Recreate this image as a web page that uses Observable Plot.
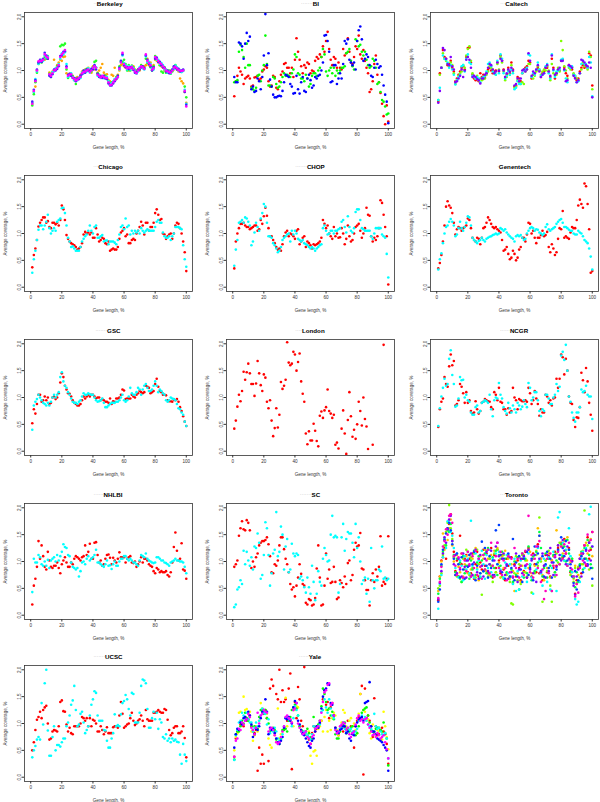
<!DOCTYPE html>
<html><head><meta charset="utf-8">
<script src="https://cdn.jsdelivr.net/npm/d3@7"></script>
<script src="https://cdn.jsdelivr.net/npm/@observablehq/plot@0.6"></script>
<style>
html,body{margin:0;padding:0;background:#fff}
#fig{position:relative;width:600px;height:802px;overflow:hidden;font-family:"Liberation Sans",Arial,Helvetica,sans-serif}
.panel{position:absolute;width:200px;height:160px}
.panel svg{position:absolute;left:0;top:0;overflow:visible}
.ttl{position:absolute;top:-1px;left:24px;width:168px;text-align:center;font-weight:bold;font-size:6.2px;line-height:8px;color:#000;white-space:nowrap}
.ttl .dots{color:#b0b0b0;font-weight:normal;font-size:5px;vertical-align:1px}
</style></head>
<body><div id="fig"></div>
<script>
// x positions: gene length, % (1..100)
const geneLength = d3.range(1, 101);
const xTicks = [0, 20, 40, 60, 80, 100];
const yTicks = [0, 0.5, 1, 1.5, 2];

// ---- Berkeley
const berkeleyOrange = [0.38,0.60,0.70,1.00,1.12,1.18,1.19,1.20,1.20,1.24,1.22,0.96,0.94,0.98,1.20,1.02,1.10,1.15,1.20,1.18,1.25,1.26,0.95,0.88,0.94,0.90,0.90,0.82,0.86,0.88,0.86,0.92,0.98,1.00,1.02,1.00,1.05,1.00,0.96,1.08,1.02,1.05,0.96,1.00,1.05,1.12,0.96,0.92,0.93,0.82,0.80,0.92,0.90,1.05,0.84,0.92,1.00,1.10,1.12,1.08,1.05,1.02,1.00,1.05,1.04,1.08,1.02,1.00,1.02,1.00,1.05,1.06,1.08,1.10,1.22,1.10,1.15,1.05,1.10,1.20,1.18,1.15,1.10,1.08,1.05,1.00,1.02,1.00,0.96,1.00,1.00,1.02,1.06,1.02,0.98,0.85,0.80,0.76,0.60,0.40];
const berkeleyGreen = [0.35,0.56,0.78,0.96,1.14,1.17,1.15,1.20,1.25,1.22,1.27,0.94,0.88,0.96,1.01,1.03,1.08,1.10,1.45,1.48,1.47,1.50,1.02,0.86,0.91,0.92,0.89,0.85,0.75,0.84,0.85,0.89,0.94,0.98,0.97,1.03,1.01,1.00,0.98,1.06,1.16,1.18,0.95,0.92,0.90,0.88,0.86,0.90,0.85,0.80,0.76,0.78,0.79,0.83,0.88,0.90,1.08,1.17,1.16,1.20,1.12,1.00,1.10,1.00,1.09,1.06,1.01,0.98,0.99,1.03,1.10,1.07,1.04,1.22,1.14,1.12,1.06,1.00,1.08,1.27,1.20,1.17,1.10,0.98,0.96,1.06,0.96,0.98,1.00,0.94,0.98,1.06,1.10,1.04,1.02,0.99,0.98,1.00,0.70,0.50];
const berkeleyCyan = [0.40,0.60,0.84,0.98,1.12,1.16,1.20,1.18,1.28,1.24,1.26,0.92,0.92,0.97,0.98,1.04,1.06,1.12,1.22,1.32,1.30,1.34,1.12,0.88,0.90,0.95,0.88,0.82,0.84,0.82,0.87,0.86,0.96,0.95,1.00,0.98,1.04,0.96,1.02,1.04,1.06,1.06,0.90,0.92,0.86,0.88,0.86,0.88,0.88,0.80,0.74,0.76,0.80,0.84,0.86,0.87,1.02,1.16,1.28,1.14,1.10,1.02,1.08,1.02,1.08,1.04,1.00,0.94,0.98,1.06,1.06,1.04,1.02,1.26,1.16,1.16,1.12,1.04,1.02,1.24,1.20,1.20,1.12,1.14,1.10,1.02,1.02,0.96,0.98,0.95,1.02,1.03,1.09,1.06,1.00,1.01,0.97,0.99,0.64,0.38];
const berkeleyBlue = [0.42,0.64,0.82,1.02,1.15,1.20,1.16,1.22,1.33,1.28,1.22,0.90,0.88,0.93,1.02,1.00,1.03,1.08,1.27,1.28,1.35,1.36,1.08,0.92,0.94,0.90,0.86,0.86,0.80,0.85,0.84,0.90,0.93,1.00,0.96,1.02,1.00,0.99,1.03,1.02,1.10,1.02,0.94,0.88,0.89,0.86,0.90,0.85,0.84,0.76,0.72,0.72,0.76,0.80,0.84,0.90,1.05,1.18,1.30,1.10,1.06,1.06,1.03,1.06,1.05,1.01,0.96,0.97,1.02,1.02,1.06,1.08,1.05,1.28,1.20,1.12,1.08,1.00,1.06,1.22,1.24,1.16,1.16,1.10,1.06,1.05,0.98,1.00,0.95,0.98,1.02,1.08,1.05,1.02,1.03,0.98,1.00,1.02,0.60,0.36];
const berkeleyMagenta = [0.38,0.62,0.80,1.00,1.17,1.18,1.18,1.20,1.30,1.26,1.24,0.93,0.90,0.95,1.00,1.02,1.05,1.10,1.25,1.30,1.33,1.38,1.05,0.90,0.92,0.93,0.87,0.84,0.82,0.83,0.86,0.88,0.95,0.97,0.98,1.00,1.02,0.97,1.00,1.05,1.08,1.05,0.92,0.90,0.87,0.90,0.88,0.87,0.86,0.78,0.73,0.74,0.78,0.82,0.85,0.88,1.03,1.15,1.33,1.12,1.08,1.04,1.06,1.04,1.07,1.03,0.98,0.95,1.00,1.04,1.08,1.06,1.03,1.30,1.18,1.14,1.10,1.02,1.04,1.25,1.22,1.18,1.14,1.12,1.08,1.04,1.00,0.98,0.97,0.96,1.00,1.05,1.07,1.04,1.01,1.00,0.99,1.00,0.62,0.33];

// ---- BI
const biRed = [0.52,0.80,0.90,1.05,0.98,0.92,0.75,0.85,0.88,0.90,0.85,0.70,0.72,0.87,0.88,0.90,0.82,0.85,0.98,1.02,1.08,1.05,0.80,0.70,0.72,0.90,0.88,0.68,0.65,0.80,0.92,0.98,1.12,1.14,1.05,1.05,0.95,1.05,0.88,1.20,1.60,1.35,1.20,1.08,0.95,1.10,1.05,1.15,1.12,0.95,1.00,0.98,1.18,1.25,1.22,1.30,1.25,1.45,1.35,1.55,1.72,1.40,1.20,1.10,1.25,1.22,1.05,1.15,1.05,1.02,1.40,1.28,1.32,1.60,1.35,1.15,1.12,1.25,1.45,1.40,1.65,1.30,1.22,1.38,1.18,1.05,0.95,0.60,0.65,0.80,1.12,1.28,0.92,0.78,0.58,0.38,0.15,0.00,0.35,0.05];
const biGreen = [0.78,0.80,0.82,1.35,1.48,1.38,1.25,1.05,1.50,1.10,1.10,0.68,0.65,0.62,0.68,0.90,0.92,0.80,1.00,1.10,1.65,1.12,0.72,0.72,0.70,0.88,0.85,0.75,0.68,0.70,0.78,0.88,0.95,0.90,0.92,0.90,0.88,0.95,1.02,1.30,1.25,0.95,0.92,0.85,0.85,0.80,0.92,0.85,0.70,0.75,0.90,0.95,0.95,0.90,1.00,1.05,1.25,1.40,1.30,0.98,0.90,1.00,1.05,0.95,1.05,0.90,1.00,0.95,1.00,1.05,1.05,1.08,1.32,1.35,1.40,1.18,1.08,1.02,1.58,1.55,1.45,1.48,1.35,1.28,1.35,1.20,1.10,1.05,1.08,1.22,1.18,1.05,0.75,0.78,0.60,0.45,0.42,0.33,0.18,0.20];
const biBlue = [0.88,0.78,0.78,1.52,1.50,1.45,1.22,1.50,1.70,1.55,1.63,0.65,0.70,0.60,0.62,0.85,0.80,0.65,0.88,1.28,2.05,1.10,1.32,0.83,0.70,0.55,0.50,0.50,0.52,0.53,0.52,0.62,0.78,0.92,0.90,0.88,0.75,0.70,0.57,0.58,0.90,0.65,0.57,0.78,0.88,0.62,0.60,0.85,0.92,0.82,0.68,0.72,0.88,0.85,0.90,0.92,1.00,1.15,1.65,1.66,1.55,1.35,0.78,0.80,1.10,1.10,0.75,0.85,0.95,0.85,1.12,1.55,1.50,1.58,1.20,1.15,1.10,1.15,1.02,1.55,1.75,1.82,1.58,1.18,1.22,1.30,1.25,1.10,0.90,0.88,1.05,1.20,1.12,1.05,1.08,0.92,0.72,0.55,0.42,0.02];

// ---- Caltech
const caltechRed = [0.42,0.95,1.05,1.38,1.25,1.22,1.10,1.12,1.18,1.05,0.98,0.80,0.85,0.92,0.98,1.05,1.08,1.02,1.25,1.42,1.43,1.15,0.92,0.85,0.82,0.85,0.80,0.95,0.88,0.92,0.88,0.95,1.02,1.05,1.00,0.95,0.98,1.00,1.15,0.98,1.28,1.18,1.02,0.88,0.92,1.05,0.95,1.15,1.02,0.70,0.72,0.88,0.85,0.80,0.95,1.02,1.05,1.08,1.18,1.15,0.85,0.92,0.95,1.00,1.05,1.00,0.88,0.95,0.98,1.05,1.05,0.98,0.88,1.22,1.05,0.85,0.95,1.02,1.00,1.18,1.20,1.05,0.95,0.90,1.10,1.05,1.02,0.92,0.88,0.82,0.85,0.98,1.05,1.10,1.05,1.08,1.05,1.32,1.28,0.72];
const caltechGreen = [0.45,0.92,1.05,1.32,1.22,1.18,1.12,1.08,1.15,1.10,0.95,0.75,0.82,0.90,0.95,0.98,1.10,1.05,1.28,1.40,1.45,1.18,0.95,0.88,0.85,0.90,0.82,0.85,0.82,0.84,0.85,0.92,0.98,1.08,1.05,1.02,0.95,0.92,1.12,1.02,1.25,1.15,0.98,0.82,0.88,1.00,0.92,1.10,0.98,0.68,0.70,0.82,0.78,0.75,0.78,0.75,0.98,1.02,1.12,1.12,0.88,0.85,0.90,0.98,1.08,1.02,0.92,0.98,1.02,1.00,1.08,1.00,0.82,1.12,0.95,0.90,0.92,1.05,0.98,1.55,1.38,1.08,1.00,0.85,1.05,1.02,1.05,0.95,0.90,0.85,0.82,0.95,1.02,1.15,1.08,1.10,1.02,1.35,1.25,0.65];
const caltechCyan = [0.45,0.68,1.05,1.28,1.22,1.20,1.15,1.05,1.10,1.02,0.92,0.74,0.82,0.88,0.92,1.08,1.10,0.98,1.22,1.30,1.15,1.12,0.90,0.88,0.85,0.88,0.85,0.78,0.86,0.88,0.90,0.98,1.12,1.15,1.08,0.98,0.95,0.92,1.18,0.95,1.30,1.22,0.95,0.85,0.90,0.98,0.92,1.02,0.95,0.65,0.68,0.80,0.75,0.75,0.95,1.00,1.02,1.05,1.30,1.28,0.88,0.95,0.92,1.02,1.15,1.02,0.90,0.92,0.95,1.08,1.12,0.95,0.85,1.30,1.00,0.88,0.98,1.00,1.02,1.20,1.22,1.00,0.85,0.78,1.08,1.05,1.08,0.92,0.90,0.78,0.80,0.95,1.12,1.18,1.12,1.12,1.05,1.25,1.15,0.52];
const caltechPurple = [0.40,0.62,1.05,1.42,1.38,1.22,1.12,1.10,1.25,1.08,1.02,0.78,0.80,0.85,0.90,1.02,0.88,1.00,1.20,1.25,1.20,1.05,0.88,0.90,0.88,0.84,0.82,0.76,0.85,0.85,0.92,0.95,1.05,1.12,1.10,1.02,0.95,0.98,1.15,1.00,1.22,1.18,1.00,0.88,0.95,1.02,0.98,1.05,1.00,0.72,0.75,0.85,0.80,0.85,1.00,1.02,0.98,1.02,1.32,1.18,0.90,0.98,0.95,1.02,1.10,0.98,0.88,0.92,0.95,1.05,1.10,0.98,0.90,1.28,1.02,0.92,0.95,1.02,1.05,1.18,1.18,1.02,0.80,0.82,1.10,1.08,1.05,0.90,0.85,0.78,0.82,0.95,1.20,1.18,1.15,1.10,1.08,1.15,1.05,0.50];

// ---- Chicago
const chicagoRed = [0.37,0.60,0.72,0.88,1.13,1.20,1.25,1.30,1.30,1.20,1.23,1.12,1.10,1.20,1.20,1.17,1.20,1.15,1.25,1.52,1.45,1.25,0.97,0.90,0.85,0.82,0.80,0.78,0.75,0.70,0.72,0.75,0.82,0.98,1.03,1.00,1.02,0.98,1.02,0.92,0.92,1.10,0.98,0.85,0.88,0.92,0.90,0.82,0.80,0.85,0.68,0.70,0.72,0.70,0.70,0.75,0.90,1.02,1.05,1.10,0.95,0.98,0.82,0.82,0.88,0.90,0.88,1.00,1.05,1.12,1.22,1.15,0.98,1.20,1.20,1.05,1.12,1.12,1.20,1.38,1.45,1.35,1.25,1.27,1.00,0.98,0.90,0.95,0.98,1.00,0.90,1.00,1.15,1.20,1.18,1.10,1.00,0.85,0.65,0.30];
const chicagoCyan = [0.27,0.52,0.68,0.88,1.07,1.15,1.15,1.08,1.15,1.22,1.35,1.10,1.00,1.05,1.10,1.05,1.22,1.25,1.28,1.47,1.48,1.38,1.15,0.92,0.85,0.75,0.76,0.72,0.68,0.68,0.68,0.75,0.85,0.90,0.95,0.98,1.05,1.15,1.05,1.00,1.12,1.15,0.92,0.92,0.95,0.97,0.85,0.87,0.87,0.80,0.85,0.85,0.85,0.83,0.80,0.88,0.98,1.12,1.15,1.08,1.28,1.12,1.15,0.98,1.05,1.00,1.05,1.02,1.05,1.00,1.10,1.05,1.02,1.05,1.08,1.05,1.05,1.05,1.05,1.12,1.22,1.25,1.20,1.20,1.02,0.95,0.92,0.92,0.95,0.88,0.95,1.00,1.12,1.12,1.12,1.10,1.08,0.78,0.52,0.38];

// ---- CHOP
const chopRed = [0.35,0.85,1.00,1.10,1.18,1.18,1.20,1.15,1.12,1.12,1.08,1.10,1.12,1.15,1.15,1.05,1.08,1.25,1.18,1.32,1.48,1.33,1.10,0.95,0.95,0.88,0.82,0.75,0.70,0.72,0.68,0.80,0.95,1.02,1.05,0.95,1.00,0.98,0.95,0.90,1.05,1.08,0.80,0.85,0.92,0.95,0.75,0.85,0.82,0.78,0.72,0.80,0.78,0.80,0.82,0.85,0.92,1.25,1.18,1.10,1.15,1.00,0.95,0.90,1.12,0.95,1.00,0.92,0.93,1.10,1.00,0.80,0.90,1.15,0.95,0.85,0.88,1.00,1.12,1.15,1.18,1.05,0.92,1.00,1.10,1.48,1.35,1.33,0.95,0.85,0.92,0.88,0.95,1.10,1.62,1.57,1.35,1.12,0.95,0.05];
const chopCyan = [0.40,0.70,0.88,1.20,1.22,1.25,1.20,1.30,1.28,1.22,1.15,0.78,0.85,1.02,1.20,1.12,1.05,1.28,1.38,1.55,1.50,1.20,0.95,0.95,0.92,0.82,0.78,0.72,0.65,0.68,0.75,0.88,0.92,0.95,0.98,1.00,0.85,1.05,0.98,1.05,1.00,0.90,0.88,0.85,0.88,0.82,0.80,0.78,0.75,0.72,0.75,0.72,0.68,0.72,0.75,0.78,0.80,1.10,1.15,1.05,0.98,1.00,1.05,1.05,1.00,1.05,1.05,1.08,1.10,1.22,1.25,1.12,1.02,1.32,1.12,1.05,1.02,1.10,1.40,1.45,1.45,1.25,1.10,1.08,1.05,1.05,1.05,1.05,0.95,0.90,1.00,1.10,1.10,1.10,1.10,0.98,0.95,0.92,0.62,0.18];

// ---- Genentech
const genentechRed = [0.35,0.45,0.60,0.85,1.15,1.50,1.60,1.52,1.48,1.38,1.20,0.98,1.08,1.12,1.10,1.05,1.10,1.12,1.15,1.28,1.25,1.10,0.92,0.88,0.85,0.92,0.90,0.80,0.92,1.10,1.12,1.20,1.30,1.25,1.18,1.12,1.10,1.12,1.08,1.05,1.02,0.88,0.68,0.70,0.75,0.62,0.52,0.55,0.68,0.62,0.50,0.55,0.70,0.75,0.92,0.92,0.85,0.98,1.20,1.18,1.00,1.05,0.92,0.82,0.92,0.92,0.97,1.05,0.95,0.97,1.03,0.75,0.65,0.80,0.72,0.60,0.65,0.90,1.10,1.08,1.42,0.92,0.95,0.92,0.90,1.02,1.12,1.10,1.10,1.25,1.52,1.63,1.55,1.48,1.93,1.88,1.55,1.08,0.27,0.30];
const genentechCyan = [0.33,0.52,0.63,0.82,1.00,1.12,1.15,1.22,1.27,1.22,1.15,0.95,0.98,1.10,1.22,1.10,1.05,1.12,1.20,1.32,1.30,1.15,0.92,0.88,0.85,0.82,0.86,0.88,0.92,0.88,0.85,0.90,0.92,0.94,0.95,0.97,0.98,1.00,0.98,1.00,1.10,1.08,1.05,1.08,1.02,0.98,0.95,0.92,0.90,0.85,0.95,0.97,0.95,0.97,0.92,0.88,0.90,1.00,1.05,1.10,1.12,1.10,1.05,1.08,1.07,1.02,1.00,0.97,1.00,1.12,1.17,1.08,1.05,1.08,1.10,1.12,1.18,1.22,1.25,1.27,1.20,1.12,1.12,1.10,1.07,1.05,1.05,1.00,0.98,0.98,1.05,1.02,1.00,0.95,0.88,0.85,0.82,0.72,0.57,0.33];

// ---- GSC
const gscRed = [0.52,0.78,0.70,0.88,1.05,1.05,0.92,0.95,1.02,0.95,1.00,0.88,0.90,1.00,1.02,0.97,1.00,1.08,1.28,1.45,1.38,1.22,1.15,1.08,1.07,1.02,0.95,0.90,0.88,0.85,0.85,0.88,0.95,1.02,0.98,1.02,1.05,1.02,1.05,1.05,1.02,0.98,1.00,1.00,0.95,0.97,0.95,0.92,0.92,0.90,0.98,0.88,0.93,0.92,0.98,0.98,1.00,1.05,1.15,1.13,0.97,0.98,0.98,0.98,1.05,1.02,1.00,1.05,1.08,1.12,1.10,1.08,1.10,1.22,1.20,1.18,1.08,1.10,1.12,1.25,1.35,1.20,1.12,1.10,1.05,1.05,1.04,0.95,0.93,0.93,0.92,0.96,0.95,0.97,0.92,0.82,0.75,0.65,0.55,0.47];
const gscCyan = [0.40,0.85,0.92,0.97,1.05,1.00,0.95,0.90,0.88,0.85,0.90,0.85,0.92,1.00,1.05,1.00,1.05,1.10,1.38,1.47,1.30,1.22,1.18,1.10,1.05,0.98,0.92,0.90,0.90,0.88,0.92,0.95,1.02,1.08,1.05,1.05,1.08,1.06,1.05,1.05,1.00,0.95,0.92,0.93,0.95,0.98,0.90,0.82,0.82,0.85,0.88,0.90,0.90,0.90,0.92,0.92,0.95,1.00,1.05,0.95,0.92,0.95,1.02,1.18,1.08,1.05,1.05,1.10,1.18,1.15,1.05,1.15,1.22,1.25,1.18,1.12,1.12,1.15,1.22,1.30,1.22,1.10,1.15,1.12,1.08,1.05,0.95,0.92,0.95,1.00,0.98,0.97,0.95,0.88,0.80,0.78,0.72,0.68,0.55,0.47];

// ---- London (null = no point)
const londonRed = [0.42,0.57,0.83,1.05,0.93,1.12,1.48,1.33,1.47,1.63,1.45,1.25,1.25,1.03,1.26,1.68,1.45,1.23,1.12,1.43,1.37,0.92,0.80,0.95,0.57,0.28,0.43,0.80,0.44,0.68,1.29,1.16,1.22,1.33,2.03,1.65,1.60,1.63,1.85,1.80,1.50,1.66,1.82,1.30,1.07,0.92,0.33,0.13,0.37,0.20,0.20,0.51,0.38,0.19,0.09,0.66,0.74,0.62,0.76,0.82,1.15,0.75,0.70,0.62,0.68,0.12,0.16,0.05,null,0.42,0.76,0.33,-0.05,0.58,1.10,0.65,0.27,0.40,0.23,0.50,0.92,0.75,0.48,1.00,0.60,0.46,0.04,null,null,0.12,null,null,null,null,null,null,1.98,null,null,null];

// ---- NCGR
const ncgrRed = [0.45,0.78,0.92,0.98,1.38,1.25,1.20,1.58,1.80,1.60,1.68,0.85,0.88,0.95,1.25,1.20,1.08,0.90,1.10,0.90,0.95,0.75,0.70,0.72,0.93,0.78,0.70,0.75,0.90,0.92,0.97,0.95,0.93,0.92,0.82,0.78,1.10,1.05,0.95,1.18,0.92,0.90,0.78,0.78,0.68,0.80,0.72,0.75,1.18,1.00,0.95,0.78,0.97,0.95,0.93,0.93,0.95,0.92,1.18,1.08,0.88,0.95,1.12,0.98,0.88,0.66,0.78,0.72,0.72,1.05,1.02,0.90,0.95,0.85,0.98,1.00,1.35,1.18,1.35,1.80,1.75,1.43,1.72,1.50,1.02,0.90,0.88,0.58,0.45,0.63,0.62,0.82,1.46,1.32,1.10,1.55,1.30,0.90,0.68,0.38];
const ncgrCyan = [0.47,0.80,1.02,1.18,1.35,1.22,1.25,1.72,1.88,1.42,1.25,0.83,0.85,0.98,1.38,1.32,1.33,1.00,1.05,0.95,0.92,0.72,0.68,0.68,0.82,0.85,0.72,0.75,0.90,0.92,0.95,0.93,0.90,1.05,0.78,0.65,0.95,1.00,0.98,1.27,1.05,0.98,0.82,0.75,0.70,0.90,0.80,0.72,0.85,0.78,0.72,0.90,0.85,0.78,0.83,0.95,0.88,0.82,1.27,1.18,0.95,1.00,1.10,1.10,0.95,0.75,0.65,0.78,0.75,1.05,1.05,0.98,0.88,0.88,1.00,1.05,1.25,1.12,1.20,1.78,1.85,1.70,1.98,1.50,1.02,0.92,0.72,0.62,0.55,0.72,0.72,0.82,1.15,1.10,1.12,1.22,1.05,1.02,1.02,0.60];

// ---- NHLBI
const nhlbiRed = [0.20,0.55,0.68,0.90,1.38,1.05,1.30,1.10,0.90,0.85,1.18,1.02,0.90,0.88,0.92,0.92,0.98,0.88,0.78,0.95,1.02,1.08,0.98,0.90,0.90,0.98,0.95,1.05,1.10,1.08,1.05,1.02,1.08,1.10,1.30,1.12,1.18,1.33,1.05,1.05,1.35,1.36,1.12,0.98,1.02,0.92,0.95,1.05,1.12,1.13,1.07,0.95,1.07,1.02,0.98,1.05,1.17,1.08,1.08,1.08,0.98,1.05,1.08,1.10,0.98,0.97,1.00,0.90,0.95,1.00,1.08,0.98,1.05,1.05,1.02,0.95,0.92,0.90,0.82,0.78,0.88,0.85,0.80,0.82,0.80,0.80,0.82,0.75,0.72,0.80,0.98,1.27,1.54,1.20,1.02,1.05,1.34,0.85,0.83,0.68];
const nhlbiCyan = [0.43,1.05,0.98,0.98,1.12,1.08,0.95,0.92,1.00,0.92,1.03,0.88,1.02,1.05,1.08,1.00,1.12,1.02,1.10,1.18,1.32,1.27,1.25,1.12,1.10,0.98,0.90,0.88,0.85,0.88,0.72,0.82,0.98,1.00,0.95,1.05,1.10,1.02,1.05,1.08,1.12,1.22,0.98,0.98,0.95,0.92,0.90,0.95,1.02,0.92,0.93,0.86,0.95,1.00,0.92,0.92,1.00,1.05,1.05,1.10,1.10,1.05,1.02,1.05,1.02,0.98,0.98,0.95,0.92,1.02,1.12,1.10,1.08,1.15,1.05,1.02,1.00,0.98,0.97,0.98,1.08,1.08,1.05,1.02,1.02,0.98,0.97,0.95,0.92,0.98,1.00,1.02,1.05,1.02,1.02,1.00,1.00,0.98,0.90,0.78];

// ---- SC
const scRed = [0.90,0.95,1.02,1.48,1.62,1.75,1.60,1.58,1.77,1.72,1.58,0.88,1.00,0.90,1.08,1.15,1.30,1.35,1.38,1.38,1.40,1.45,1.32,1.10,0.80,0.78,0.95,0.92,1.02,1.30,1.45,1.45,1.23,1.05,0.95,0.80,0.58,0.48,0.52,0.35,0.55,0.70,0.95,0.77,0.58,0.55,0.23,0.20,0.30,0.28,0.18,0.20,0.32,0.87,1.30,0.70,0.18,0.20,0.55,1.15,0.68,0.85,0.60,0.62,0.90,0.62,0.30,0.33,0.65,0.60,0.52,0.72,0.58,0.97,1.02,0.65,0.75,1.22,1.35,1.28,1.30,1.53,0.87,0.85,0.65,0.47,0.47,0.18,0.65,0.78,0.62,0.85,0.72,0.90,1.47,0.55,0.62,0.58,0.68,1.47];
const scCyan = [0.15,0.20,0.48,0.52,0.65,0.58,1.20,0.95,1.18,1.02,0.92,1.08,0.85,1.28,1.25,1.52,1.35,0.68,0.75,1.12,1.73,1.62,1.12,0.55,0.78,1.15,1.22,1.92,1.10,1.18,1.65,1.50,0.85,1.28,1.42,0.80,0.85,1.33,1.15,1.10,1.15,1.12,0.68,0.72,0.65,0.52,0.42,0.70,0.52,0.40,0.92,0.62,0.28,0.40,0.82,0.62,0.55,1.05,1.25,1.12,1.00,1.02,1.50,1.85,1.45,1.48,1.45,0.42,0.58,1.45,1.70,1.20,1.42,1.55,1.52,1.52,1.35,1.08,1.70,1.25,1.45,1.00,0.58,0.65,0.70,0.40,0.68,0.25,1.25,0.65,0.50,0.65,0.65,0.85,0.82,1.28,0.68,0.70,0.65,0.68];

// ---- Toronto
const torontoS1 = [0.28,0.72,1.02,1.08,1.25,1.05,1.62,1.70,1.88,1.52,1.18,0.82,1.02,0.72,1.48,0.95,0.70,1.05,1.12,0.80,1.05,0.78,1.15,0.68,0.95,1.18,0.72,0.98,0.85,1.22,0.92,1.15,0.78,1.05,1.25,0.70,1.12,0.88,1.22,1.02,0.78,1.12,0.85,0.65,1.05,0.92,0.70,1.08,0.60,0.95,0.72,1.02,0.88,0.65,1.05,0.82,1.18,0.70,1.25,0.95,0.72,1.15,0.95,0.80,1.32,0.78,1.05,0.65,0.92,1.12,0.80,1.10,0.72,1.02,0.88,1.18,0.92,1.25,1.05,1.35,1.08,1.42,1.15,0.95,1.25,0.80,1.02,0.72,0.40,0.65,0.88,1.05,0.78,1.15,1.30,0.92,1.45,1.05,1.22,1.55];
const torontoS2 = [0.45,0.72,1.00,1.52,1.22,1.55,1.40,1.62,1.78,1.30,1.00,0.75,1.12,0.90,0.80,1.15,0.72,0.95,1.10,0.78,1.12,0.85,1.05,0.72,1.25,0.88,0.65,1.10,0.92,1.05,1.22,0.82,1.05,0.75,1.12,0.92,1.20,0.80,1.25,0.98,0.70,1.10,0.88,1.20,0.78,1.05,0.68,0.95,0.82,0.45,1.00,0.78,1.08,0.62,0.92,1.12,0.80,1.02,0.88,1.18,0.78,1.05,0.92,1.20,1.62,1.48,1.05,0.75,0.65,1.02,0.88,1.15,0.70,1.02,0.92,0.80,1.58,1.30,1.05,1.28,1.15,1.38,1.20,1.45,1.05,0.98,0.80,0.68,0.92,0.58,0.75,1.12,0.95,1.20,1.05,1.35,1.15,1.38,1.42,1.10];
const torontoS3 = [0.50,0.55,0.78,1.12,1.30,1.55,1.72,2.05,1.62,1.42,1.08,1.12,0.72,0.95,0.68,0.62,1.05,0.85,1.22,0.92,0.75,1.08,0.88,1.15,0.70,1.22,0.95,0.78,0.38,1.12,0.85,1.20,0.72,1.05,0.92,0.62,1.15,0.80,1.22,0.90,1.05,0.72,1.12,0.88,0.75,1.08,0.62,0.22,0.20,0.78,1.10,0.65,0.95,0.58,1.12,0.80,1.02,0.72,1.22,0.95,0.42,1.05,0.78,1.12,0.92,1.82,1.00,0.25,0.70,1.02,0.82,1.20,0.55,0.25,1.10,0.72,1.15,0.98,1.35,1.05,1.28,1.02,1.40,0.92,1.22,0.75,1.05,0.62,0.88,0.60,0.90,0.70,1.12,0.95,1.95,1.05,1.30,0.85,1.25,0.55];
const torontoS4 = [0.40,0.68,0.92,1.18,1.42,1.30,1.58,1.55,1.70,1.38,1.12,0.80,1.05,0.72,0.98,0.62,1.10,0.78,0.92,1.18,0.68,1.02,0.85,1.20,0.75,0.98,1.10,0.70,1.02,0.82,1.15,0.78,1.25,0.95,0.72,1.08,0.88,1.20,0.75,1.12,0.92,1.18,0.68,1.05,0.80,1.12,0.72,0.85,0.62,1.00,0.75,1.08,0.48,0.92,1.15,0.70,1.05,0.78,1.28,0.92,0.65,1.10,0.82,1.18,0.98,1.55,1.25,0.72,0.88,1.15,0.70,1.05,0.92,0.45,1.12,0.80,1.02,1.20,0.95,1.32,1.10,1.28,1.00,1.40,1.15,0.82,1.05,0.70,0.52,0.80,0.62,0.95,1.18,0.85,1.25,1.05,1.40,1.12,0.95,0.88];
const torontoS5 = [0.12,0.58,0.75,1.08,1.40,1.25,1.75,1.72,1.55,1.48,1.25,0.88,1.15,0.70,1.02,0.92,0.65,1.10,0.85,1.05,0.78,1.76,0.92,0.70,1.15,0.85,1.02,0.72,1.20,0.95,0.68,1.12,0.88,1.22,0.80,1.05,0.72,1.15,0.95,1.18,0.85,1.05,0.70,0.98,1.12,0.78,0.95,0.72,0.58,1.05,0.45,0.82,0.48,1.02,0.72,1.08,0.88,0.62,1.15,0.95,0.70,0.40,1.12,0.85,1.25,1.02,0.78,0.55,1.05,0.92,0.62,1.08,0.48,0.88,1.18,0.75,0.45,1.82,1.92,1.12,1.35,1.02,1.22,0.95,1.62,1.10,0.80,0.72,0.30,0.20,0.25,0.62,1.05,1.18,0.88,1.25,1.02,1.88,2.02,1.28];
const torontoS6 = [0.25,0.48,0.95,1.22,1.40,1.52,1.62,1.72,1.58,1.32,1.05,0.75,1.15,0.95,0.70,1.08,0.85,0.68,1.02,0.90,1.12,0.72,0.95,1.18,0.65,0.92,1.05,0.78,1.37,0.82,1.25,0.92,0.70,1.10,0.88,1.02,0.75,1.58,0.95,1.68,1.12,0.80,1.05,0.68,0.92,1.15,0.72,0.88,1.42,0.65,0.98,0.72,1.10,0.85,0.62,1.05,0.92,1.18,0.75,0.88,1.05,0.65,1.28,0.95,1.15,1.48,0.82,1.10,0.72,0.95,1.18,0.88,1.05,0.70,0.98,1.12,0.85,1.22,1.05,1.45,1.25,1.10,1.38,1.02,1.22,0.95,0.72,0.60,0.82,0.48,0.65,0.92,1.10,0.80,1.05,1.22,0.95,1.35,0.88,0.68];
const torontoS7 = [0.30,0.60,0.82,1.15,1.45,1.35,1.60,1.78,1.85,1.38,0.95,1.12,0.78,1.05,0.85,0.72,1.15,0.90,0.70,1.02,0.92,1.15,0.75,0.98,1.22,0.80,0.68,1.12,0.92,0.72,1.05,1.18,0.82,0.95,1.20,0.75,1.02,1.28,1.35,1.10,0.82,1.05,1.15,0.75,0.95,0.68,1.08,0.80,0.70,0.92,1.15,0.62,0.85,1.05,0.78,1.10,0.92,0.70,1.22,0.85,1.02,0.78,1.12,0.62,1.28,1.05,0.80,1.15,0.92,0.70,1.12,0.82,1.25,0.98,0.75,1.08,0.90,1.30,1.12,1.02,1.40,1.20,0.95,1.28,1.05,0.88,1.00,0.55,0.38,0.72,0.85,1.05,0.72,1.15,0.98,1.20,0.92,1.35,1.02,1.28];
const torontoS8 = [0.32,0.62,0.90,1.28,1.38,1.60,1.50,1.85,1.88,1.72,1.10,0.92,0.75,1.08,0.88,1.15,0.70,1.02,0.82,1.18,0.95,0.72,1.10,0.88,1.20,0.75,1.05,0.90,0.68,1.12,0.85,1.02,1.22,0.78,1.35,0.92,0.72,1.10,1.35,0.88,1.18,0.75,1.02,0.88,0.65,1.10,0.80,1.05,0.72,1.25,0.88,1.05,0.70,0.92,1.15,0.75,1.20,0.95,1.85,0.80,1.12,0.70,1.05,1.28,0.88,1.38,0.62,0.85,0.30,0.45,1.05,0.78,1.15,0.45,0.92,1.10,0.75,1.18,0.95,1.28,1.05,1.32,1.15,0.92,1.35,1.02,0.85,0.72,0.35,0.58,0.42,0.88,1.15,1.02,1.30,0.95,1.50,1.20,1.40,1.55];

// ---- UCSC
const ucscRed = [0.50,0.65,0.88,1.07,1.12,1.22,1.10,1.25,1.30,1.33,1.00,0.70,0.72,0.85,0.88,0.87,0.85,0.95,1.40,1.43,1.23,1.22,0.98,0.85,0.92,0.82,0.80,0.95,0.95,0.95,0.95,1.00,1.12,1.10,1.05,1.10,0.95,1.10,0.95,1.07,1.05,1.00,0.85,0.85,0.95,0.88,0.80,0.85,0.93,0.82,0.82,0.82,0.93,0.95,0.95,0.92,1.15,1.40,1.18,0.92,0.95,0.98,1.00,1.10,1.20,1.05,0.97,1.00,1.05,1.08,1.15,1.05,0.95,1.25,1.08,1.05,1.05,1.05,1.20,1.20,1.22,1.25,1.22,1.20,1.20,1.27,1.25,1.07,0.88,0.78,0.82,0.92,0.95,0.95,0.82,0.82,0.85,0.95,0.73,0.37];
const ucscCyan = [0.37,0.50,0.58,0.70,0.75,0.70,1.38,0.98,1.75,2.00,0.87,0.40,0.40,0.75,0.95,0.50,0.60,0.60,0.57,0.65,0.72,0.72,0.95,1.02,1.15,1.35,1.43,1.70,1.25,0.95,0.98,1.18,1.22,1.02,0.82,0.88,0.95,1.15,1.35,1.45,1.60,1.57,1.15,1.05,1.05,1.05,0.88,0.87,0.68,0.55,0.55,0.72,0.82,1.17,0.95,0.97,0.95,1.17,1.38,1.42,1.53,1.45,1.27,1.15,1.57,1.55,1.02,1.02,1.02,1.20,1.70,1.82,1.80,1.75,1.27,0.92,0.92,1.10,1.22,1.08,1.20,0.90,1.08,1.02,0.75,0.72,0.80,0.68,0.72,0.65,0.72,0.68,0.70,0.66,0.65,0.42,0.25,0.62,0.42,0.30];

// ---- Yale
const yaleRed = [0.38,0.72,0.85,0.88,0.98,1.00,0.95,1.12,1.05,1.08,1.15,0.95,0.85,0.82,0.88,0.12,0.55,0.25,0.42,0.25,1.25,1.10,0.30,1.65,1.82,1.70,0.85,1.55,1.45,2.00,1.40,1.62,1.40,1.45,1.05,1.65,1.93,0.15,1.25,1.40,1.10,1.68,1.45,1.05,0.95,2.05,0.85,0.78,0.70,0.62,0.82,0.95,0.85,0.90,0.92,1.00,1.05,1.45,1.62,1.35,1.40,1.10,1.30,1.38,1.15,0.92,0.88,0.78,0.90,0.95,0.85,0.92,0.90,1.05,0.88,0.95,0.82,0.55,0.95,1.05,1.12,1.55,1.70,0.05,1.65,1.10,1.15,1.05,0.95,0.75,1.47,0.95,0.78,0.80,0.88,0.92,0.85,0.80,0.62,0.25];
const yaleYellow = [0.50,0.75,0.82,1.20,1.22,1.05,1.50,1.25,1.27,1.18,1.22,0.85,0.68,0.78,0.95,0.85,1.05,1.38,1.28,1.25,1.22,1.18,0.72,0.60,0.55,0.88,0.78,0.65,1.28,0.72,0.80,0.85,0.90,1.48,0.95,1.10,1.08,1.02,0.95,1.25,1.32,1.30,0.95,0.88,0.82,0.85,0.80,0.75,0.85,0.40,0.25,0.48,0.50,0.40,0.90,0.95,1.05,0.85,1.12,1.25,0.85,1.05,0.88,1.10,1.20,1.15,0.88,0.78,0.85,1.02,1.25,1.20,0.95,0.90,1.05,1.10,0.95,1.00,0.88,0.82,1.18,1.55,1.10,1.25,1.22,1.05,1.08,0.82,0.72,0.98,0.80,0.75,0.88,0.85,0.72,0.70,1.22,0.95,0.75,0.52];
const yaleGreen = [0.33,0.80,0.85,0.85,0.95,1.05,1.00,1.20,1.10,1.05,1.12,0.95,0.88,0.95,0.92,0.90,1.12,1.25,1.22,1.18,1.25,1.10,1.00,0.85,0.90,0.92,0.88,0.70,0.65,0.62,0.72,0.88,0.88,0.90,0.85,1.05,1.12,1.25,1.30,1.35,1.28,1.15,0.95,0.88,0.85,0.82,0.85,0.90,0.82,0.75,0.72,1.12,0.92,0.95,0.98,1.05,1.32,1.65,1.55,1.40,1.25,1.28,1.15,1.22,1.08,0.80,0.72,0.72,0.85,0.92,0.98,1.02,0.82,0.88,0.85,0.92,0.95,0.85,0.78,0.82,0.95,1.08,1.20,1.25,1.28,1.30,1.15,1.02,0.88,0.85,0.82,0.90,0.92,0.92,0.88,0.85,1.02,0.82,0.72,0.22];
const yaleCyan = [0.32,0.78,0.88,1.02,1.05,1.20,1.15,1.05,1.20,1.08,1.02,1.02,0.85,0.92,1.02,0.95,1.05,1.15,1.28,1.20,1.18,0.98,1.08,0.82,0.88,0.85,0.92,0.85,0.72,0.68,0.70,0.80,0.95,1.10,1.12,1.08,1.05,0.95,1.10,1.32,1.25,1.15,0.98,0.85,0.80,0.85,0.82,0.78,0.75,0.70,0.80,0.95,0.90,0.92,0.95,0.98,1.22,1.25,1.45,1.30,1.20,1.45,1.28,1.15,1.10,0.90,0.82,0.85,0.90,0.92,1.02,0.90,0.85,0.92,0.88,0.90,0.85,0.82,0.85,0.90,1.05,1.10,1.15,1.08,1.12,1.05,0.98,0.95,0.90,0.85,1.18,0.95,0.90,0.92,0.85,0.80,0.78,0.82,0.72,0.35];
const yaleBlue = [0.55,0.80,0.90,0.88,1.02,0.98,1.10,1.12,1.08,1.22,1.15,0.98,0.75,0.80,0.90,0.88,0.95,1.10,1.22,1.25,1.45,1.22,0.80,0.92,0.88,0.90,0.82,0.72,0.65,0.62,0.68,0.75,0.92,1.10,1.08,1.12,1.05,1.00,1.30,1.42,1.38,1.05,0.98,0.88,0.82,0.78,0.72,0.65,0.58,0.55,0.68,0.72,0.85,0.95,0.92,1.02,1.28,1.50,1.62,1.65,1.75,1.72,1.38,1.35,1.15,0.92,0.85,0.82,0.88,0.90,0.95,0.95,0.82,0.85,0.72,0.68,0.80,0.78,0.95,1.02,1.08,1.10,1.12,1.05,1.38,1.40,1.42,1.77,0.95,0.85,0.85,0.80,0.72,0.70,0.68,0.65,0.60,0.55,0.50,0.12];
const yaleMagenta = [0.38,0.68,0.72,0.90,0.88,1.02,0.98,1.05,1.08,1.18,1.12,0.92,0.88,0.80,0.92,1.20,1.00,1.15,1.18,1.25,1.22,1.20,0.85,0.90,0.92,0.88,0.78,0.65,0.62,0.65,0.75,0.85,0.95,1.12,1.15,1.10,1.08,1.02,1.25,1.28,1.38,1.00,0.92,0.85,0.80,0.82,0.85,0.75,0.72,0.62,0.75,0.78,0.90,0.92,0.95,1.05,1.20,1.40,1.58,1.62,1.72,1.75,1.35,1.38,1.15,0.88,0.82,0.85,0.95,0.98,1.02,1.00,0.88,0.92,0.80,0.75,0.82,0.85,0.98,1.10,1.15,1.05,1.08,1.02,1.08,1.10,0.98,0.92,0.85,0.78,0.80,0.75,0.82,0.78,0.72,0.75,0.78,0.65,0.52,0.35];

// panel names, dotted prefixes and series (drawn in order)
const panelNames = ["Berkeley","BI","Caltech","Chicago","CHOP","Genentech","GSC","London","NCGR","NHLBI","SC","Toronto","UCSC","Yale"];
const panelDots = [2,7,3,3,7,1,7,4,6,6,7,3,7,6];
const panelSeries = [
  [[berkeleyOrange,"#FFA500"],[berkeleyGreen,"#22FF22"],[berkeleyCyan,"#00FFFF"],[berkeleyBlue,"#3F1FFF"],[berkeleyMagenta,"#FF00FF"]],
  [[biRed,"#FF0000"],[biGreen,"#00FF00"],[biBlue,"#0000FF"]],
  [[caltechRed,"#FF0000"],[caltechGreen,"#80FF00"],[caltechCyan,"#00FFFF"],[caltechPurple,"#8000FF"]],
  [[chicagoRed,"#FF0000"],[chicagoCyan,"#00FFFF"]],
  [[chopRed,"#FF0000"],[chopCyan,"#00FFFF"]],
  [[genentechRed,"#FF0000"],[genentechCyan,"#00FFFF"]],
  [[gscRed,"#FF0000"],[gscCyan,"#00FFFF"]],
  [[londonRed,"#FF0000"]],
  [[ncgrRed,"#FF0000"],[ncgrCyan,"#00FFFF"]],
  [[nhlbiRed,"#FF0000"],[nhlbiCyan,"#00FFFF"]],
  [[scRed,"#FF0000"],[scCyan,"#00FFFF"]],
  [[torontoS1,"#FF0000"],[torontoS2,"#FFBF00"],[torontoS3,"#80FF00"],[torontoS4,"#00FF40"],[torontoS5,"#00FFFF"],[torontoS6,"#0040FF"],[torontoS7,"#8000FF"],[torontoS8,"#FF00BF"]],
  [[ucscRed,"#FF0000"],[ucscCyan,"#00FFFF"]],
  [[yaleRed,"#FF0000"],[yaleYellow,"#FFFF00"],[yaleGreen,"#00FF00"],[yaleCyan,"#00FFFF"],[yaleBlue,"#0000FF"],[yaleMagenta,"#FF00FF"]]
];

const colLeft = [0, 202, 406];
const rowTop = [0, 163, 327, 491, 653];
const fig = document.getElementById("fig");

panelNames.forEach((name, i) => {
  const col = i % 3, row = Math.floor(i / 3);
  const rows = [];
  panelSeries[i].forEach(([vals, color]) => {
    vals.forEach((v, j) => { if (v != null) rows.push({len: geneLength[j], cov: v, color}); });
  });
  const div = document.createElement("div");
  div.className = "panel";
  div.style.left = colLeft[col] + "px";
  div.style.top = rowTop[row] + "px";
  const chart = Plot.plot({
    width: 200, height: 160,
    marginLeft: 24, marginRight: 8, marginTop: 12, marginBottom: 32,
    x: {domain: [-4, 104]},
    y: {domain: [-0.08, 2.08]},
    color: {type: "identity"},
    style: {fontFamily: "'Liberation Sans', Arial, sans-serif", fontSize: "4.6px", color: "#333", background: "transparent", overflow: "visible"},
    marks: [
      Plot.axisX({ticks: xTicks, tickSize: 2.5, tickPadding: 1.5, fontSize: 4.6, label: "Gene length, %", labelAnchor: "center", labelOffset: 20, labelArrow: "none"}),
      Plot.axisY({ticks: yTicks, tickSize: 2.5, tickPadding: 1.5, tickRotate: -90, fontSize: 4.6, tickFormat: d3.format(".1f"), label: "Average coverage, %", labelAnchor: "center", labelOffset: 21, labelArrow: "none"}),
      Plot.dot(rows, {x: "len", y: "cov", fill: "color", r: 1.3, clip: true}),
      Plot.frame({stroke: "#333", strokeWidth: 0.8})
    ]
  });
  div.appendChild(chart);
  const t = document.createElement("div");
  t.className = "ttl";
  const d = document.createElement("span");
  d.className = "dots";
  d.textContent = "·".repeat(panelDots[i]);
  t.appendChild(d);
  t.appendChild(document.createTextNode(name));
  div.appendChild(t);
  fig.appendChild(div);
});
</script>
</body></html>
